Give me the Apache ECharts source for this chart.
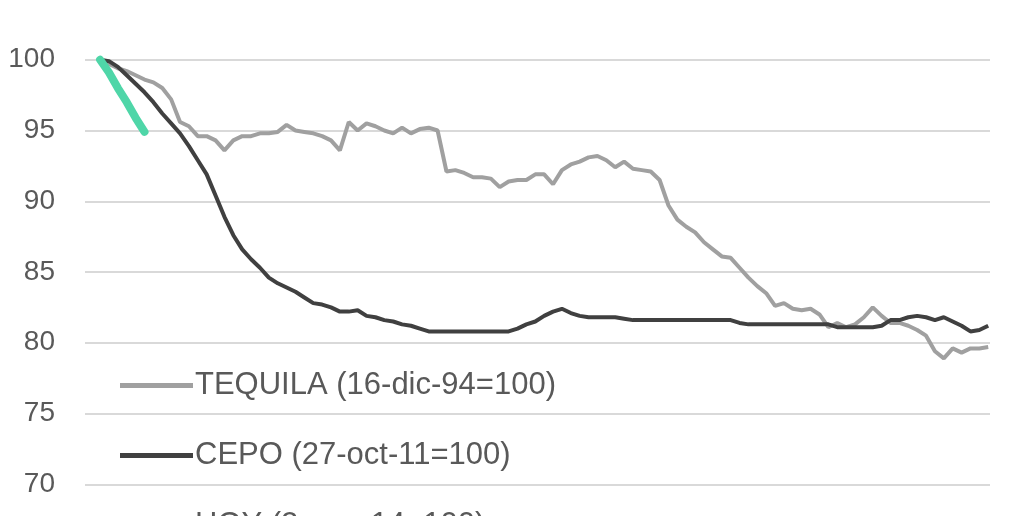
<!DOCTYPE html>
<html>
<head>
<meta charset="utf-8">
<script src="https://cdn.jsdelivr.net/npm/echarts@6/dist/echarts.min.js"></script>
<style>
html,body{margin:0;padding:0;background:#fff;}
#c{width:1024px;height:516px;}
</style>
</head>
<body>
<div id="c"></div>
<script>
const seriesNames = ['TEQUILA (16-dic-94=100)', 'CEPO (27-oct-11=100)', 'HOY (2-ene-14=100)'];
const yTicks = [65, 70, 75, 80, 85, 90, 95, 100, 105];

const tequila = [100, 99.7, 99.4, 99.2, 98.9, 98.6, 98.4, 98.0, 97.2, 95.6,
  95.3, 94.6, 94.6, 94.3, 93.6, 94.3, 94.6, 94.6, 94.8, 94.8,
  94.9, 95.4, 95.0, 94.9, 94.8, 94.6, 94.3, 93.6, 95.6, 95.0,
  95.5, 95.3, 95.0, 94.8, 95.2, 94.8, 95.1, 95.2, 95.0, 92.1,
  92.2, 92.0, 91.7, 91.7, 91.6, 91.0, 91.4, 91.5, 91.5, 91.9,
  91.9, 91.2, 92.2, 92.6, 92.8, 93.1, 93.2, 92.9, 92.4, 92.8,
  92.3, 92.2, 92.1, 91.5, 89.7, 88.7, 88.2, 87.8, 87.1, 86.6,
  86.1, 86.0, 85.3, 84.6, 84.0, 83.5, 82.6, 82.8, 82.4, 82.3,
  82.4, 82.0, 81.1, 81.4, 81.1, 81.3, 81.8, 82.5, 81.9, 81.4,
  81.4, 81.2, 80.9, 80.5, 79.4, 78.9, 79.6, 79.3, 79.6, 79.6, 79.7];

const cepo = [100, 99.9, 99.5, 98.9, 98.3, 97.7, 97.0, 96.2, 95.5, 94.8,
  93.9, 92.9, 91.9, 90.4, 88.9, 87.6, 86.6, 85.9, 85.3, 84.6,
  84.2, 83.9, 83.6, 83.2, 82.8, 82.7, 82.5, 82.2, 82.2, 82.3,
  81.9, 81.8, 81.6, 81.5, 81.3, 81.2, 81.0, 80.8, 80.8, 80.8,
  80.8, 80.8, 80.8, 80.8, 80.8, 80.8, 80.8, 81.0, 81.3, 81.5,
  81.9, 82.2, 82.4, 82.1, 81.9, 81.8, 81.8, 81.8, 81.8, 81.7,
  81.6, 81.6, 81.6, 81.6, 81.6, 81.6, 81.6, 81.6, 81.6, 81.6,
  81.6, 81.6, 81.4, 81.3, 81.3, 81.3, 81.3, 81.3, 81.3, 81.3,
  81.3, 81.3, 81.3, 81.1, 81.1, 81.1, 81.1, 81.1, 81.2, 81.6,
  81.6, 81.8, 81.9, 81.8, 81.6, 81.8, 81.5, 81.2, 80.8, 80.9, 81.2];

const hoy = [100, 99.1, 98.0, 97.0, 95.9, 94.9];

function withIndex(arr) { return arr.map((v, i) => [i, v]); }

const legendText = {color: '#595959', fontSize: 31, fontFamily: 'Liberation Sans, Arial, sans-serif', padding: [0, 0, 0, -3]};
function legendFor(name, top) {
  return {orient: 'vertical', left: 120, top: top, padding: 0,
    itemWidth: 73, itemHeight: 5, icon: 'rect', textStyle: legendText, data: [name]};
}

const chart = echarts.init(document.getElementById('c'), null, {renderer: 'canvas'});
chart.setOption({
  animation: false,
  backgroundColor: '#ffffff',
  grid: {left: 85, right: 34, top: -11, bottom: -39, containLabel: false, outerBoundsMode: 'none'},
  xAxis: {type: 'value', min: -1.7, max: 100.2, show: false},
  yAxis: {
    type: 'value', min: yTicks[0], max: yTicks[yTicks.length - 1], interval: 5,
    axisLine: {show: false}, axisTick: {show: false},
    axisLabel: {margin: 30, color: '#595959', fontSize: 28, fontFamily: 'Liberation Sans, Arial, sans-serif'},
    splitLine: {lineStyle: {color: '#d9d9d9', width: 2}}
  },
  legend: [legendFor(seriesNames[0], 370), legendFor(seriesNames[1], 440), legendFor(seriesNames[2], 510)],
  series: [
    {name: seriesNames[0], type: 'line', data: withIndex(tequila), showSymbol: false, z: 2,
     lineStyle: {color: '#a0a0a0', width: 4}, itemStyle: {color: '#a0a0a0'}},
    {name: seriesNames[1], type: 'line', data: withIndex(cepo), showSymbol: false, z: 3,
     lineStyle: {color: '#404040', width: 4}, itemStyle: {color: '#404040'}},
    {name: seriesNames[2], type: 'line', data: withIndex(hoy), showSymbol: false, z: 4,
     lineStyle: {color: '#4fd6a8', width: 8, cap: 'round'}, itemStyle: {color: '#4fd6a8'}}
  ]
});
</script>
</body>
</html>
